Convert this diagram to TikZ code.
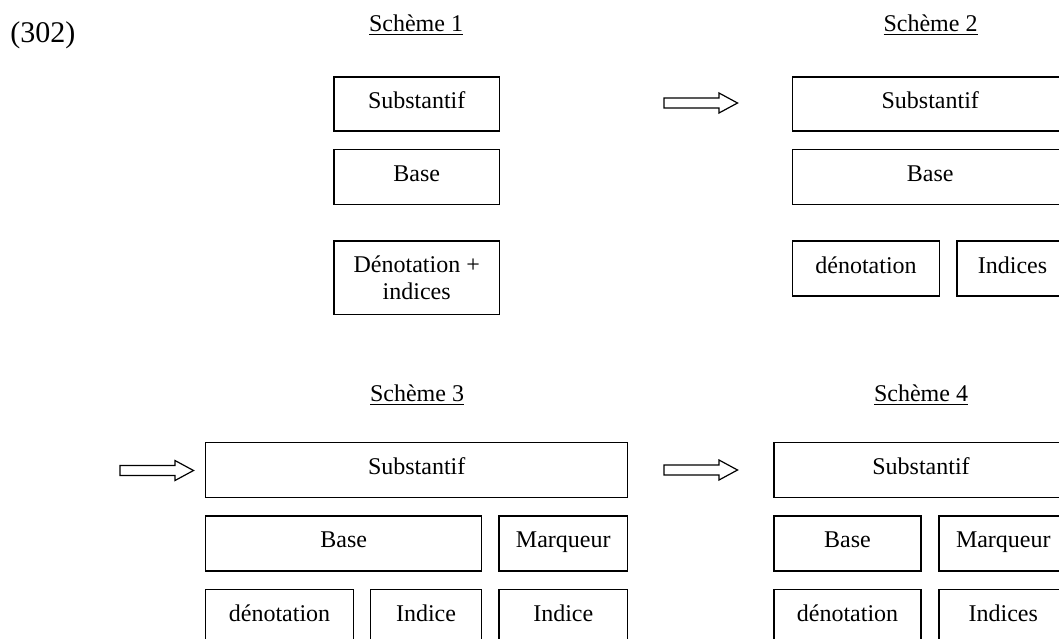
\documentclass[tikz,border=0pt]{standalone}
\usepackage{fontspec}
\setmainfont{Liberation Serif}
\begin{document}
\begin{tikzpicture}[x=0.5pt,y=-0.5pt, font=\fontsize{12}{13.5}\selectfont,
  bx/.style={draw, line width=0.75pt, inner sep=0pt, align=center, minimum height=27.5pt},
  b1/.style={bx, text height=7.5pt, text depth=3pt},
  ttl/.style={anchor=base, inner sep=0pt},
  barrow/.pic={\draw[line width=0.6pt] (0,5) -- (55,5) -- (55,10) -- (73.5,0) -- (55,-10) -- (55,-5) -- (0,-5) -- cycle;}]
\useasboundingbox (0,0) rectangle (1059,638);
\clip (0,0) rectangle (1059,638);
\node[anchor=base west, inner sep=0pt, font=\fontsize{15}{18}\selectfont] (num) at (10,42) {(302)};
% titles
\node[ttl] (t1) at (416,31) {\underline{Schème 1}};
\node[ttl] (t2) at (930.5,31) {\underline{Schème 2}};
\node[ttl] (t3) at (417,401) {\underline{Schème 3}};
\node[ttl] (t4) at (921,401) {\underline{Schème 4}};
% Scheme 1
\node[b1, minimum width=82.65pt, minimum height=27.15pt] (s1sub) at (416.7,103.9) {Substantif};
\node[b1, minimum width=82.65pt] (s1base) at (416.7,176.8) {Base};
\node[bx, minimum width=82.65pt, minimum height=36.65pt] (s1den) at (416.7,277.7) {Dénotation +\\indices};
% Scheme 2
\node[b1, minimum width=137.65pt, minimum height=27.15pt] (s2sub) at (930.3,103.9) {Substantif};
\node[b1, minimum width=137.65pt] (s2base) at (930.3,176.8) {Base};
\node[b1, minimum width=73.3pt] (s2den) at (866,268.5) {dénotation};
\node[b1, minimum width=55.5pt] (s2ind) at (1012.5,268.5) {Indices};
% Scheme 3
\node[b1, minimum width=211pt, minimum height=27.7pt] (s3sub) at (416.7,470) {Substantif};
\node[b1, minimum width=138pt] (s3base) at (343.7,543.3) {Base};
\node[b1, minimum width=64.35pt] (s3mar) at (563.3,543.3) {Marqueur};
\node[b1, minimum width=73.8pt] (s3den) at (279.5,617) {dénotation};
\node[b1, minimum width=55.7pt] (s3inda) at (426,617) {Indice};
\node[b1, minimum width=64.35pt] (s3indb) at (563.3,617) {Indice};
% Scheme 4
\node[b1, minimum width=147pt, minimum height=27.7pt] (s4sub) at (921,470) {Substantif};
\node[b1, minimum width=73.5pt] (s4base) at (847.5,543.3) {Base};
\node[b1, minimum width=64.35pt] (s4mar) at (1003.3,543.3) {Marqueur};
\node[b1, minimum width=73.5pt] (s4den) at (847.5,617) {dénotation};
\node[b1, minimum width=64.35pt] (s4ind) at (1003.3,617) {Indices};
% arrows
\pic at (664,103) {barrow};
\pic at (120,470.5) {barrow};
\pic at (664,470) {barrow};
\end{tikzpicture}
\end{document}
